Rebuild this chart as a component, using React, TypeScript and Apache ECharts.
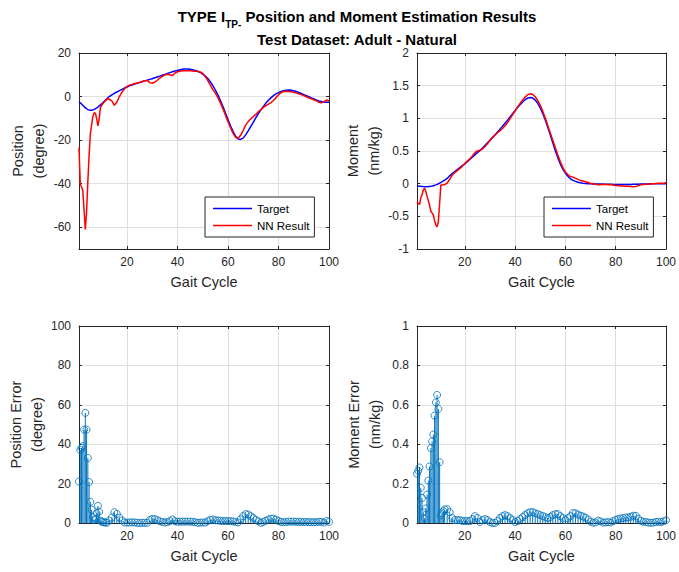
import React, { useEffect, useRef } from 'react';
import * as echarts from 'echarts';

// Sample positions along the gait cycle (finer sampling at the start)
const gaitX = [
  1, 1.5, 2, 2.5, 3, 3.5, 4, 4.5, 5, 5.5, 6, 6.5, 7, 7.5, 8, 8.5, 9, 9.5, 10, 10.5, 11, 11.5, 12,
  13, 14, 15, 16, 17, 18, 19, 20, 21, 22, 23, 24, 25, 26, 27, 28, 29, 30, 31, 32, 33, 34, 35, 36, 37, 38, 39, 40,
  41, 42, 43, 44, 45, 46, 47, 48, 49, 50, 51, 52, 53, 54, 55, 56, 57, 58, 59, 60, 61, 62, 63, 64, 65, 66, 67, 68, 69, 70,
  71, 72, 73, 74, 75, 76, 77, 78, 79, 80, 81, 82, 83, 84, 85, 86, 87, 88, 89, 90, 91, 92, 93, 94, 95, 96, 97, 98, 99, 100,
];

const posTarget = [
  -2.4, -2.9, -3.4, -4.0, -4.6, -5.1, -5.6, -6.0, -6.2, -6.3, -6.3, -6.1, -5.9, -5.6, -5.2, -4.8, -4.3, -3.8, -3.3, -2.8, -2.2, -1.6, -1.0,
  0.0, 0.8, 1.5, 2.1, 2.7, 3.3, 3.9, 4.4, 4.9, 5.3, 5.7, 6.1, 6.5, 6.8, 7.2, 7.5, 7.9, 8.2, 8.6, 9.0, 9.4, 9.8, 10.2, 10.6, 11.0, 11.4, 11.7, 12.0,
  12.3, 12.5, 12.6, 12.6, 12.5, 12.3, 12.0, 11.6, 11.1, 10.3, 9.4, 8.3, 6.8, 5.0, 3.0, 0.8, -1.8, -4.6, -7.6, -10.6,
  -13.4, -16.0, -18.2, -19.5, -19.7, -19.1, -17.6, -15.8, -13.8, -11.8, -9.8, -7.9, -6.1, -4.5, -3.0, -1.7, -0.6, 0.4, 1.2, 1.8,
  2.3, 2.7, 2.9, 3.0, 2.9, 2.7, 2.3, 1.9, 1.4, 0.9, 0.4, -0.1, -0.6, -1.1, -1.6, -2.0, -2.3, -2.5, -2.6, -2.6,
];

const posNN = [
  -23.4, -40, -41.5, -43, -52, -61, -53, -39, -27, -17, -13, -9, -7.4, -7.6, -10.2, -13.5, -10, -5, -4, -3.2, -2.5, -1.9, -1.1,
  -1.2, -2.0, -4.0, -2.5, 0.0, 2.0, 3.6, 4.6, 5.2, 5.6, 6.0, 6.2, 6.5, 6.9, 7.3, 7.4, 6.4, 6.1, 6.6, 7.5, 8.5, 9.3, 9.9, 10.2, 10.0, 9.6, 10.8, 11.4,
  11.6, 11.8, 11.9, 11.9, 11.8, 11.7, 11.6, 11.5, 11.3, 10.6, 9.2, 7.3, 5.2, 3.2, 1.6, -0.5, -2.9, -5.6, -8.6, -11.6,
  -14.3, -16.8, -18.7, -19.2, -17.8, -15.6, -13.1, -11.5, -10.3, -9.2, -8.2, -7.0, -6.0, -5.0, -4.2, -3.5, -2.8, -1.8, -0.5, 0.8,
  1.8, 2.3, 2.4, 2.3, 2.2, 2.0, 1.7, 1.3, 0.9, 0.4, -0.1, -0.6, -1.0, -1.5, -2.0, -2.6, -2.9, -2.3, -1.6, -2.0,
];

const posError = [
  21.0, 37.1, 38.1, 39.0, 47.4, 55.9, 47.4, 33.0, 20.8, 10.7, 6.7, 2.9, 1.5, 2.0, 5.0, 8.7, 5.7, 1.2, 0.7, 0.4, 0.3, 0.3, 0.1,
  1.2, 2.8, 5.5, 4.6, 2.7, 1.3, 0.3, 0.2, 0.3, 0.3, 0.3, 0.1, 0.0, 0.1, 0.1, 0.1, 1.5, 2.1, 2.0, 1.5, 0.9, 0.5, 0.3, 0.4, 1.0, 1.8, 0.9, 0.6,
  0.7, 0.7, 0.7, 0.7, 0.7, 0.6, 0.4, 0.1, 0.2, 0.3, 0.2, 1.0, 1.6, 1.8, 1.4, 1.3, 1.1, 1.0, 1.0, 1.0,
  0.9, 0.8, 0.5, 0.3, 1.9, 3.5, 4.5, 4.3, 3.5, 2.6, 1.6, 0.9, 0.1, 0.5, 1.2, 1.8, 2.2, 2.2, 1.7, 1.0,
  0.5, 0.4, 0.5, 0.7, 0.7, 0.7, 0.6, 0.6, 0.5, 0.5, 0.5, 0.5, 0.4, 0.4, 0.4, 0.6, 0.6, 0.2, 1.0, 0.6,
];

const momTarget = [
  -0.030, -0.035, -0.038, -0.041, -0.043, -0.045, -0.046, -0.046, -0.046, -0.045, -0.043, -0.040, -0.036, -0.031, -0.025, -0.018, -0.010, -0.001, 0.009, 0.019, 0.030, 0.042, 0.054,
  0.080, 0.120, 0.155, 0.185, 0.215, 0.245, 0.275, 0.300, 0.335, 0.370,
  0.405, 0.440, 0.475, 0.505, 0.545, 0.585, 0.625, 0.665, 0.705, 0.745,
  0.790, 0.835, 0.880, 0.925, 0.970, 1.020, 1.070, 1.120, 1.165, 1.210,
  1.250, 1.285, 1.310, 1.320, 1.310, 1.280, 1.230, 1.160, 1.075, 0.975,
  0.865, 0.745, 0.625, 0.505, 0.395, 0.300, 0.220, 0.160, 0.115, 0.075,
  0.050, 0.035, 0.022, 0.013, 0.007, 0.003, 0.000, -0.002, -0.004, -0.005,
  -0.006, -0.007, -0.008, -0.009, -0.010, -0.010, -0.011, -0.012, -0.012, -0.012,
  -0.012, -0.012, -0.012, -0.011, -0.010, -0.009, -0.008, -0.007, -0.006, -0.005,
  -0.004, -0.003, -0.002, -0.001, 0.000, 0.000, 0.000, 0.000,
];

const momNN = [
  -0.28, -0.30, -0.32, -0.22, -0.17, -0.10, -0.07, -0.12, -0.19, -0.26, -0.33, -0.42, -0.45, -0.48, -0.57, -0.63, -0.66, -0.58, -0.30, -0.02, -0.02, -0.018, -0.015,
  0.010, 0.065, 0.130, 0.170, 0.200, 0.230, 0.265, 0.310, 0.345, 0.380,
  0.425, 0.475, 0.500, 0.510, 0.530, 0.565, 0.610, 0.660, 0.705, 0.745,
  0.780, 0.810, 0.845, 0.885, 0.935, 0.995, 1.055, 1.115, 1.175, 1.230,
  1.280, 1.325, 1.360, 1.375, 1.365, 1.330, 1.275, 1.200, 1.110, 1.005,
  0.890, 0.775, 0.665, 0.550, 0.440, 0.335, 0.245, 0.175, 0.140, 0.110,
  0.100, 0.085, 0.065, 0.050, 0.040, 0.030, 0.018, 0.005, -0.002, -0.008,
  -0.018, -0.015, -0.010, -0.012, -0.015, -0.012, -0.020, -0.028, -0.032, -0.035,
  -0.037, -0.040, -0.040, -0.043, -0.047, -0.045, -0.030, -0.018, -0.012, -0.010,
  -0.006, -0.004, 0.000, 0.004, 0.006, 0.005, 0.008, 0.014,
];

const momError = [
  0.250, 0.265, 0.282, 0.179, 0.127, 0.055, 0.024, 0.074, 0.144, 0.215, 0.287, 0.380, 0.414, 0.449, 0.545, 0.612, 0.650, 0.579, 0.309, 0.039, 0.050, 0.060, 0.069,
  0.070, 0.055, 0.025, 0.015, 0.015, 0.015, 0.010, 0.010, 0.010, 0.010,
  0.020, 0.035, 0.025, 0.005, 0.015, 0.020, 0.015, 0.005, 0.000, 0.000,
  0.010, 0.025, 0.035, 0.040, 0.035, 0.025, 0.015, 0.005, 0.010, 0.020,
  0.030, 0.040, 0.050, 0.055, 0.055, 0.050, 0.045, 0.040, 0.035, 0.030,
  0.025, 0.030, 0.040, 0.045, 0.045, 0.035, 0.025, 0.015, 0.025, 0.035,
  0.050, 0.050, 0.043, 0.037, 0.033, 0.027, 0.018, 0.007, 0.002, 0.003,
  0.012, 0.008, 0.002, 0.003, 0.005, 0.002, 0.009, 0.016, 0.020, 0.023,
  0.025, 0.028, 0.028, 0.032, 0.037, 0.036, 0.022, 0.011, 0.006, 0.005,
  0.002, 0.001, 0.002, 0.005, 0.006, 0.005, 0.008, 0.014,
];

const xTickValues = [20, 40, 60, 80, 100];
const posTickValues = [-60, -40, -20, 0, 20];
const legendNames = ['Target', 'NN Result'];

const AXIS_COLOR = '#262626';
const GRID_COLOR = '#dfdfdf';
const FONT = '"Liberation Sans", Arial, Helvetica, sans-serif';
const STEM_COLOR = '#0072BD';
const TARGET_COLOR = '#0000FF';
const NN_COLOR = '#FF0000';

const pairs = (ys: number[]) => gaitX.map((x, i) => [x, ys[i]]);

const gridBoxes = [
  { left: 79, top: 53, width: 250, height: 196 },
  { left: 417, top: 53, width: 251, height: 196 },
  { left: 79, top: 326, width: 250, height: 197 },
  { left: 417, top: 326, width: 251, height: 197 },
];

const lineStyleAxis = { color: AXIS_COLOR, width: 1 };

function makeXAxes(gi: number) {
  return [
    {
      type: 'value', gridIndex: gi, min: 1, max: 100, position: 'bottom',
      name: 'Gait Cycle', nameLocation: 'middle', nameGap: 25,
      nameTextStyle: { fontSize: 14.5, color: AXIS_COLOR, fontFamily: FONT },
      axisLine: { show: true, onZero: false, lineStyle: lineStyleAxis },
      axisTick: { show: true, inside: true, length: 3, customValues: xTickValues, lineStyle: lineStyleAxis },
      axisLabel: { customValues: xTickValues, color: AXIS_COLOR, fontSize: 12, fontFamily: FONT, margin: 7 },
      splitLine: { show: true, lineStyle: { color: GRID_COLOR, width: 1 } },
    },
    {
      type: 'value', gridIndex: gi, min: 1, max: 100, position: 'top',
      axisLine: { show: true, onZero: false, lineStyle: lineStyleAxis },
      axisTick: { show: true, inside: true, length: 3, customValues: xTickValues, lineStyle: lineStyleAxis },
      axisLabel: { show: false, customValues: xTickValues },
      splitLine: { show: false },
    },
  ];
}

function makeYAxes(gi: number, name: string, nameGap: number, range: any) {
  const tickExtra = range.custom ? { customValues: range.custom } : {};
  const intervalExtra = range.interval ? { interval: range.interval } : {};
  return [
    {
      type: 'value', gridIndex: gi, min: range.min, max: range.max, ...intervalExtra,
      position: 'left',
      name, nameLocation: 'middle', nameGap,
      nameTextStyle: { fontSize: 14.5, color: AXIS_COLOR, fontFamily: FONT, lineHeight: 21 },
      axisLine: { show: true, onZero: false, lineStyle: lineStyleAxis },
      axisTick: { show: true, inside: true, length: 3, lineStyle: lineStyleAxis, ...tickExtra },
      axisLabel: { color: AXIS_COLOR, fontSize: 12, fontFamily: FONT, margin: 8, ...tickExtra },
      splitLine: { show: true, lineStyle: { color: GRID_COLOR, width: 1 } },
    },
    {
      type: 'value', gridIndex: gi, min: range.min, max: range.max, ...intervalExtra,
      position: 'right',
      axisLine: { show: true, onZero: false, lineStyle: lineStyleAxis },
      axisTick: { show: true, inside: true, length: 3, lineStyle: lineStyleAxis, ...tickExtra },
      axisLabel: { show: false, ...tickExtra },
      splitLine: { show: false },
    },
  ];
}

function stemSeries(gi: number, ys: number[]) {
  return [
    {
      type: 'custom',
      xAxisIndex: gi * 2, yAxisIndex: gi * 2,
      data: pairs(ys),
      encode: { x: 0, y: 1 },
      clip: true,
      renderItem: (params: any, api: any) => {
        const x = api.value(0);
        const y = api.value(1);
        const p0 = api.coord([x, 0]);
        const p1 = api.coord([x, y]);
        return {
          type: 'line',
          shape: { x1: p0[0], y1: p0[1], x2: p1[0], y2: p1[1] },
          style: { stroke: STEM_COLOR, lineWidth: 1 },
        };
      },
      silent: true,
    },
    {
      type: 'scatter',
      xAxisIndex: gi * 2, yAxisIndex: gi * 2,
      data: pairs(ys),
      symbol: 'circle',
      symbolSize: 7,
      itemStyle: { color: 'rgba(0,0,0,0)', borderColor: STEM_COLOR, borderWidth: 1 },
      silent: true,
    },
  ];
}

function lineSeries(gi: number, name: string, ys: number[], color: string) {
  return {
    type: 'line', name,
    xAxisIndex: gi * 2, yAxisIndex: gi * 2,
    data: pairs(ys),
    showSymbol: false, symbol: 'none',
    lineStyle: { color, width: 1.5 },
    itemStyle: { color },
    silent: true,
  };
}

function makeLegend(left: number, top: number) {
  return {
    left, top, orient: 'vertical',
    data: legendNames.map((n) => ({ name: n, icon: 'rect' })),
    backgroundColor: '#ffffff',
    borderColor: AXIS_COLOR, borderWidth: 1, borderRadius: 0,
    padding: [5, 5, 5, 8],
    itemWidth: 39, itemHeight: 1.6, itemGap: 4,
    itemStyle: { borderWidth: 0 },
    textStyle: { fontSize: 11.5, color: '#000', fontFamily: FONT, lineHeight: 13 },
    selectedMode: false,
  };
}

export default function App() {
  const ref = useRef<HTMLDivElement>(null);
  useEffect(() => {
    if (!ref.current) return;
    const chart = echarts.init(ref.current, undefined, { renderer: 'svg' });
    const option: any = {
      animation: false,
      backgroundColor: '#ffffff',
      grid: gridBoxes.map((g) => ({ ...g, containLabel: false })),
      xAxis: [...makeXAxes(0), ...makeXAxes(1), ...makeXAxes(2), ...makeXAxes(3)],
      yAxis: [
        ...makeYAxes(0, 'Position\n(degree)', 29, { min: -70, max: 20, custom: posTickValues }),
        ...makeYAxes(1, 'Moment\n(nm/kg)', 32, { min: -1, max: 2, interval: 0.5 }),
        ...makeYAxes(2, 'Position Error\n(degree)', 29, { min: 0, max: 100, interval: 20 }),
        ...makeYAxes(3, 'Moment Error\n(nm/kg)', 32, { min: 0, max: 1, interval: 0.2 }),
      ],
      legend: [makeLegend(205, 197), makeLegend(544, 197)],
      graphic: [
        {
          type: 'text', x: 357, y: 16,
          style: {
            text: '{a|TYPE I}{s|TP-}{a| Position and Moment Estimation Results}',
            align: 'center', verticalAlign: 'middle',
            rich: {
              a: { fontSize: 15, fontWeight: 'bold', fontFamily: FONT, fill: '#000' },
              s: { fontSize: 10, fontWeight: 'bold', fontFamily: FONT, fill: '#000', padding: [16, 0, 0, 0] },
            },
          },
        },
        {
          type: 'text', x: 357, y: 39,
          style: {
            text: 'Test Dataset: Adult - Natural',
            align: 'center', verticalAlign: 'middle',
            fontSize: 15, fontWeight: 'bold', fontFamily: FONT, fill: '#000',
          },
        },
      ],
      series: [
        lineSeries(0, 'Target', posTarget, TARGET_COLOR),
        lineSeries(0, 'NN Result', posNN, NN_COLOR),
        lineSeries(1, 'Target', momTarget, TARGET_COLOR),
        lineSeries(1, 'NN Result', momNN, NN_COLOR),
        ...stemSeries(2, posError),
        ...stemSeries(3, momError),
      ],
    };
    chart.setOption(option);
    return () => chart.dispose();
  }, []);
  return (
    <div
      ref={ref}
      style={{ position: 'fixed', left: 0, top: 0, width: 679, height: 572, background: '#fff' }}
    />
  );
}
